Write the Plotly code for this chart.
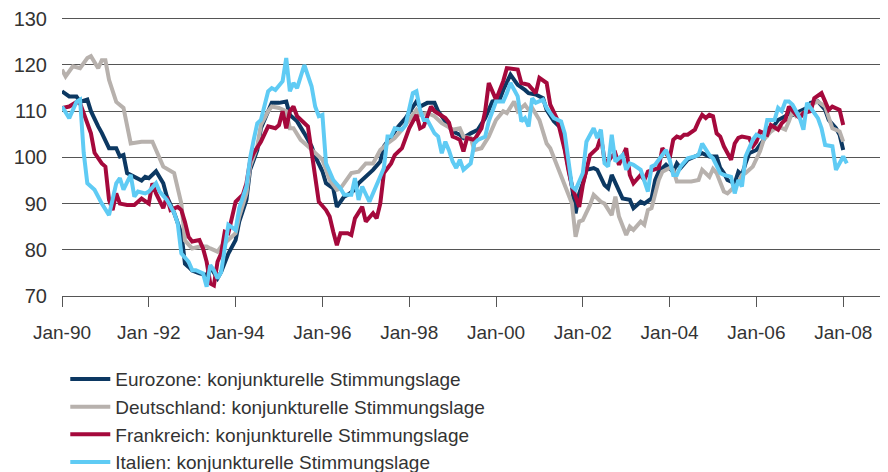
import plotly.graph_objects as go

# month index since Jan-1990 and index values
eur_m = [0, 2, 4, 5, 7, 8, 10, 11, 13, 15, 16, 17, 18, 20, 22, 23, 24, 26, 28, 29, 31, 33, 34, 35, 36, 38, 40,
         41, 43, 44, 46, 48, 49, 51, 52, 54, 55, 57, 58, 60, 62, 63, 65, 67, 69, 70, 72, 73, 75, 76, 78, 79, 81,
         82, 84, 86, 88, 89, 91, 93, 95, 97, 98, 99, 101, 102, 103, 104, 106, 108, 110, 111, 113, 115, 117, 119,
         121, 122, 124, 126, 128, 129, 131, 133, 134, 136, 138, 139, 141, 142, 143, 144, 145, 147, 148, 150, 151,
         152, 154, 155, 157, 158, 160, 161, 163, 164, 165, 167, 169, 170, 171, 173, 175, 177, 179, 180, 181, 182,
         183, 184, 186, 187, 188, 189, 190, 192, 194, 195, 197, 198, 200, 201, 202, 204, 206, 207, 209, 211, 212,
         214, 215, 216]
eur_v = [114.3, 113.2, 113.2, 112, 112.5, 110, 106.7, 105.3, 102, 102, 100.2, 100.5, 96.6, 95.8, 95, 95.8, 95.5,
         97, 94.4, 91.5, 88, 83.6, 77, 76.3, 75.5, 74.9, 74.5, 76.3, 73.8, 75.2, 79.2, 82.1, 86.1, 90.8, 97.3,
         101.6, 106.3, 110, 111.8, 111.8, 112.1, 109.2, 107.8, 105.2, 102.4, 100.2, 97, 94.4, 93.3, 89.3, 91.5,
         91.9, 93, 94.4, 95.8, 97.3, 99.1, 102.4, 104.5, 106.7, 108.5, 111, 112.1, 111, 111.8, 111.8, 111.8, 110,
         107.8, 105.6, 104.9, 104.2, 105.2, 106, 108.5, 112.1, 112.5, 114.6, 117.9, 115.7, 114.6, 113.9, 113.6,
         112.8, 110.3, 107.8, 106.3, 102.4, 93.7, 87.9, 92.2, 94.4, 97.3, 97.7, 97.3, 94, 93.3, 96.2, 93, 91.1,
         90.8, 89, 90.4, 90, 91.1, 95.1, 96.9, 98.4, 96.9, 98.7, 97.7, 99.5, 100.2, 100.9, 100.2, 100.2, 100.2,
         97.7, 96.6, 95.1, 94.4, 96.9, 96.2, 98.7, 100.9, 101.6, 103.8, 106, 107, 108.1, 108.9, 109.6, 109.2, 110,
         110.7, 111.8, 112.1, 110.3, 108.1, 106.3, 104.9, 101.6]

deu_m = [0, 1, 3, 5, 7, 8, 10, 11, 12, 13, 15, 17, 19, 22, 25, 28, 31, 33, 34, 36, 38, 40, 41, 43, 44, 46, 48,
         49, 51, 52, 54, 55, 57, 58, 60, 62, 63, 64, 66, 68, 70, 72, 74, 76, 77, 79, 80, 82, 84, 86, 87, 88, 90,
         92, 94, 96, 98, 99, 101, 103, 105, 107, 108, 110, 111, 113, 114, 116, 118, 120, 122, 123, 125, 126, 128,
         129, 130, 132, 134, 135, 137, 139, 141, 142, 143, 144, 146, 147, 149, 150, 152, 153, 154, 156, 157, 158,
         160, 161, 162, 163, 165, 166, 168, 169, 170, 172, 174, 176, 177, 179, 180, 181, 182, 183, 184, 185, 187,
         188, 189, 191, 193, 194, 196, 198, 200, 201, 202, 203, 206, 207, 209, 211, 212, 213, 215, 216]
deu_v = [119, 117.5, 119.7, 119.3, 121.5, 121.9, 119.3, 121, 121, 116.8, 112, 110.7, 103, 103.4, 103.4, 98,
         96.6, 90, 82, 80.3, 80.7, 80.7, 80.3, 79.6, 80.7, 82.1, 83.6, 87.2, 92.2, 98, 102.4, 107, 110, 111,
         110.7, 110, 106.3, 106.3, 103.8, 102.4, 101, 99.5, 95.1, 93, 93.3, 95.5, 96.6, 96.9, 98.7, 98.7, 100.2,
         101.6, 103, 104.2, 106, 108.1, 110.3, 109.2, 109.6, 108.9, 107.4, 106.5, 106, 106.3, 104.5, 104.2, 101.6,
         102, 104.5, 108.1, 110, 109.6, 112.1, 110, 111.4, 110.3, 110.7, 108.1, 103, 102, 98, 94.4, 90, 82.8,
         86.1, 86.4, 89.7, 91.9, 90.4, 90, 87.5, 91.5, 87.2, 83.2, 85, 84.3, 86.1, 85.4, 88.6, 89, 95.1, 96.9,
         97.7, 97.3, 94.8, 94.8, 94.8, 95.1, 97.3, 95.8, 97.5, 96.6, 94.4, 92.6, 92.2, 93, 94.4, 96.2, 96.6, 98,
         101.3, 103.8, 105.6, 106.7, 106, 107.8, 110, 108.9, 110, 111.4, 112.1, 111, 108.9, 106.3, 105.6, 103.4]

fra_m = [0, 2, 4, 5, 7, 8, 9, 11, 12, 13, 14, 15, 16, 18, 20, 22, 24, 25, 26, 28, 29, 30, 32, 33, 34, 35, 36,
         38, 39, 40, 41, 42, 43, 44, 45, 46, 48, 50, 51, 52, 53, 55, 57, 59, 60, 61, 62, 63, 64, 65, 68, 69, 70,
         71, 73, 74, 75, 76, 77, 79, 80, 81, 83, 84, 86, 87, 88, 89, 91, 92, 94, 95, 96, 98, 99, 100, 102, 103,
         105, 106, 107, 108, 109, 110, 111, 112, 114, 116, 117, 118, 120, 121, 122, 123, 126, 127, 129, 131, 132,
         134, 135, 137, 139, 140, 141, 143, 144, 145, 146, 148, 149, 150, 151, 152, 153, 154, 156, 157, 158, 160,
         161, 162, 164, 165, 166, 168, 169, 170, 171, 172, 173, 175, 176, 177, 178, 179, 180, 181, 182, 183, 185,
         186, 187, 188, 190, 191, 192, 193, 195, 196, 198, 199, 200, 201, 203, 204, 205, 207, 208, 210, 212, 213,
         215, 216]
fra_v = [110.7, 111, 112, 111.7, 107.4, 105.2, 101, 98.7, 98, 90.8, 88.6, 92.2, 90, 89.7, 89.7, 91.1, 90, 94.4,
         92.2, 89, 91.5, 88.6, 89.3, 88.6, 86, 82.8, 81.8, 82.1, 80.3, 77.4, 72.7, 72.3, 77.4, 79.2, 83.9, 83.6,
         90.4, 91.9, 94.4, 99.1, 100.9, 103.4, 106.7, 106.3, 107, 110, 106.3, 110, 111, 108.9, 106.7, 101.6, 95.1,
         90.4, 88.6, 87.2, 83.9, 81, 83.6, 83.6, 83.2, 86.8, 89.3, 86.1, 87.9, 86.8, 90, 96.6, 98.7, 100.5, 102,
         104.5, 106.3, 109.2, 106.3, 106.7, 111, 110, 108.9, 108.5, 107.5, 104.5, 104.2, 103.8, 101.3, 104.2,
         103.8, 106.3, 110, 116.1, 112.5, 114.3, 116.5, 119.3, 119, 116.1, 115.7, 113.9, 117.2, 116.1, 111.4,
         108.1, 101.6, 97.3, 93.7, 89.3, 94, 97.3, 100.5, 102, 104.5, 99.5, 99.1, 100.2, 100.9, 98.4, 102, 96.2,
         94.4, 96.2, 95.1, 96.9, 97.3, 97.7, 102, 99.8, 103.8, 104.5, 104.2, 104.9, 104.9, 106, 107.8, 109.2,
         108.5, 109.2, 108.9, 105.2, 104.5, 102.4, 99.5, 103, 104.2, 104.5, 104.2, 102.4, 103.4, 105.6, 104.9,
         107, 106, 107.4, 108.1, 111, 109.2, 108.5, 109.6, 110, 112.8, 113.9, 110.3, 111, 110.3, 107]

ita_m = [0, 2, 4, 5, 6, 7, 9, 11, 13, 15, 16, 17, 19, 20, 21, 23, 24, 26, 27, 29, 31, 32, 33, 35, 36, 37, 39,
         40, 41, 42, 43, 44, 45, 46, 48, 49, 51, 52, 53, 54, 55, 57, 58, 59, 61, 62, 63, 64, 65, 67, 69, 70, 71,
         72, 73, 75, 77, 78, 80, 81, 82, 83, 85, 86, 87, 89, 90, 91, 92, 94, 95, 97, 98, 99, 100, 101, 103, 104,
         105, 106, 107, 108, 109, 110, 111, 113, 114, 115, 117, 118, 120, 122, 123, 124, 126, 127, 128, 129, 130,
         131, 133, 134, 136, 138, 139, 140, 141, 142, 143, 144, 145, 147, 148, 149, 150, 151, 152, 153, 155, 156,
         157, 158, 160, 161, 162, 163, 164, 167, 168, 169, 170, 171, 173, 175, 176, 177, 179, 180, 182, 183, 185,
         186, 187, 188, 189, 191, 192, 194, 195, 197, 198, 199, 200, 201, 202, 204, 205, 206, 207, 209, 210, 211,
         213, 214, 216, 217]
ita_v = [111, 108.5, 112, 112.5, 101, 94.4, 93, 90, 87.5, 94.4, 95.5, 93, 96.2, 91.5, 92.6, 92.2, 92.6, 94.4,
         92.6, 90.8, 88, 85.7, 79.2, 77.4, 75.6, 75.6, 74.9, 72, 76.7, 75.6, 73.8, 75.2, 80.3, 85.4, 84.3, 89,
         93.7, 99.8, 103.8, 107.4, 108.1, 114.3, 115, 114.6, 116.5, 121.5, 114.3, 116.1, 115, 120, 115.4, 111,
         108.9, 109.2, 98.7, 95.1, 93.3, 91.9, 91.9, 95.5, 90.8, 93.7, 90.4, 92.2, 94.4, 97.7, 104.5, 104.5,
         106.3, 106, 107, 113.9, 114.3, 110.3, 108.1, 108.1, 105.2, 104.5, 100.9, 103.4, 101.5, 99.1, 97.7, 99.5,
         97.3, 98.7, 103, 103.8, 104.5, 107.8, 112.1, 112.1, 113.9, 116.1, 113.2, 107.8, 108.5, 106.7, 112.8,
         111.8, 112.5, 110.7, 108.5, 107.8, 105.2, 99.8, 93.7, 93, 95, 96.6, 103.4, 106.3, 104.2, 106, 98.7, 98,
         104.9, 99.1, 100.5, 97.3, 98.7, 98.4, 97.3, 95.1, 92.6, 98, 98.4, 101.6, 99.5, 96.2, 96.2, 98, 99.8,
         100.2, 100.5, 103, 100.5, 99.8, 96.6, 96.2, 95.8, 92.2, 95.1, 93.7, 100.2, 103.8, 104.9, 104.2, 108.1,
         108.1, 110.7, 110, 112.1, 112.1, 111.4, 108.5, 106, 111.8, 110.7, 108.5, 106.3, 102.7, 102.4, 97.3,
         100.2, 98.7]

tick_months = [0, 24, 48, 72, 96, 120, 144, 168, 192, 216]
tick_labels = ['Jan-90', 'Jan -92', 'Jan-94', 'Jan-96', 'Jan-98',
               'Jan-00', 'Jan-02', 'Jan-04', 'Jan-06', 'Jan-08']

series = [
    ('Eurozone: konjunkturelle Stimmungslage', eur_m, eur_v, '#0c3862'),
    ('Deutschland: konjunkturelle Stimmungslage', deu_m, deu_v, '#b7b1ad'),
    ('Frankreich: konjunkturelle Stimmungslage', fra_m, fra_v, '#a5093c'),
    ('Italien: konjunkturelle Stimmungslage', ita_m, ita_v, '#5fcbf4'),
]

fig = go.Figure()
for name, m, v, col in series:
    fig.add_trace(go.Scatter(x=m, y=v, name=name, mode='lines',
                             line=dict(color=col, width=4)))

# page body adds 8px, so the figure is 8px smaller than the window
fig.update_layout(
    width=880, height=464,
    margin=dict(l=54, r=5, t=8, b=176, autoexpand=False),
    paper_bgcolor='white', plot_bgcolor='white',
    font=dict(family='Liberation Sans, Arial, sans-serif', size=19, color='#333333'),
    showlegend=True,
    legend=dict(x=0.004, xref='paper', xanchor='left', y=-0.229, yref='paper', yanchor='top',
                font=dict(size=19, color='#333333'), tracegroupgap=0, itemwidth=40),
)
fig.update_xaxes(range=[0, 227], tickvals=tick_months, ticktext=tick_labels,
                 showgrid=False, zeroline=False, showline=True, linecolor='#555555', linewidth=1,
                 ticks='outside', ticklen=10, tickcolor='#555555', tickfont=dict(size=19),
                 ticklabelstandoff=9)
fig.update_yaxes(range=[70, 130.6], dtick=10, showgrid=True, gridcolor='#555555', gridwidth=1,
                 zeroline=False, showline=False, ticklabelstandoff=14, tickfont=dict(size=20),
                 ticklabeloverflow='allow')

fig.write_html('out.html')
